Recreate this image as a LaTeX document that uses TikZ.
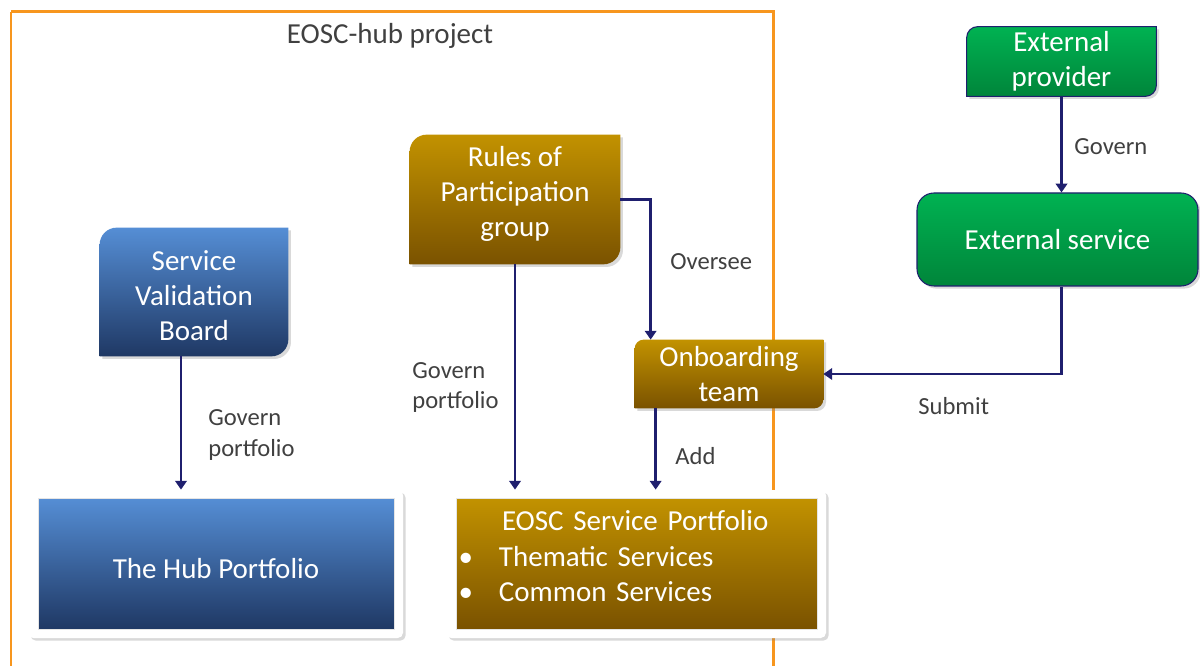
\documentclass[tikz,border=0pt]{standalone}
\usepackage{fontspec}
\setmainfont{Carlito}
\usetikzlibrary{calc,positioning,arrows.meta,shadows,backgrounds}

\definecolor{svbtop}{RGB}{85,142,213}
\definecolor{svbbot}{RGB}{31,56,100}
\definecolor{goldtop}{RGB}{194,146,0}
\definecolor{goldbot}{RGB}{122,82,0}
\definecolor{greentop}{RGB}{0,178,82}
\definecolor{greenbot}{RGB}{0,133,58}
\definecolor{linknavy}{RGB}{31,31,110}
\definecolor{labelgrey}{RGB}{64,64,64}
\definecolor{projorange}{RGB}{247,150,30}

\tikzset{
  boxtext/.style={text=white, align=center, inner sep=0pt,
    font=\fontsize{16.5}{20}\selectfont},
  lbl/.style={text=labelgrey, align=left, inner sep=0pt, anchor=base west,
    font=\fontsize{14}{17.6}\selectfont},
  link/.style={draw=linknavy, line width=1.4pt, -{Triangle[width=6.5pt,length=5pt]}},
  softshadow/.style={drop shadow={shadow xshift=1.5pt, shadow yshift=-1.5pt, opacity=0.3}},
  portframe/.style={fill=white, rounded corners=3pt, softshadow, inner sep=0pt},
  portbox/.style={boxtext, draw=white!80!gray, line width=0.4pt},
  projframe/.style={draw=projorange, line width=1.7pt},
}

% rounded top-left and bottom-right corners, sharp elsewhere
\newcommand{\diagshape}[3]{%
  \shade[#2] ($(#1.north west)+(0,-#3)$) -- (#1.south west)
    -- ($(#1.south east)+(-#3,0)$) arc[start angle=270, end angle=360, radius=#3]
    -- (#1.north east) -- ($(#1.north west)+(#3,0)$)
    arc[start angle=90, end angle=180, radius=#3] -- cycle;
}

\begin{document}
\begin{tikzpicture}

\useasboundingbox (0,0) rectangle (24,-13.32);

% project frame, left edge (nothing covers it)
\draw[projframe] (0.22,-0.24) -- (0.22,-13.32);

% Title of the project frame
\node[text=labelgrey, inner sep=0pt, anchor=base, font=\fontsize{16.5}{20}\selectfont]
  (title) at (7.80,-0.88) {EOSC-hub project};

% Boxes (text only, shapes drawn on the background)
\node[boxtext, minimum width=3.76cm, minimum height=2.56cm] (svb) at (3.88,-5.84)
  {\rule{0pt}{0.54cm}Service\\Validation\\Board};
\node[boxtext, minimum width=4.20cm, minimum height=2.58cm] (rules) at (10.30,-3.99)
  {Rules of\\Participation\\group\rule[-0.33cm]{0pt}{0pt}};
\node[boxtext, minimum width=3.76cm, minimum height=1.36cm] (onboard) at (14.58,-7.48)
  {Onboarding\\team};
\node[boxtext, minimum width=3.78cm, minimum height=1.38cm] (extprov) at (21.23,-1.23)
  {External\\provider};
\node[boxtext, minimum width=5.62cm, minimum height=1.86cm, rounded corners=0.34cm,
  draw=linknavy, line width=0.6pt, top color=greentop, bottom color=greenbot, softshadow]
  (extserv) at (21.15,-4.79) {External service};

% Portfolios
\node[portframe, minimum width=7.50cm, minimum height=2.96cm] (hub) at (4.31,-11.28) {};
\node[portbox, minimum width=7.12cm, minimum height=2.62cm,
  top color=svbtop, bottom color=svbbot] (hubbox) at (4.32,-11.27)
  {\rule{0pt}{0.62cm}The Hub Portfolio};
\node[portbox, align=left, text width=6.82cm, inner xsep=0.2cm, minimum height=2.62cm,
  top color=goldtop, bottom color=goldbot] (eoscbox) at (12.73,-11.27)
  {\hspace*{0.72cm}EOSC Service Portfolio\\
   \makebox[0.66cm][l]{\hspace{-0.15cm}\textbullet}Thematic Services\\
   \makebox[0.66cm][l]{\hspace{-0.15cm}\textbullet}Common Services\rule[-0.3cm]{0pt}{0pt}};

\begin{scope}[on background layer]
  % project frame, top and right edges (behind the boxes)
  \draw[projframe] (0.22,-0.24) -- (15.46,-0.24) -- (15.46,-13.32);
  \diagshape{svb}{top color=svbtop, bottom color=svbbot, softshadow}{0.34cm}
  \diagshape{rules}{top color=goldtop, bottom color=goldbot, softshadow}{0.34cm}
  \diagshape{onboard}{top color=goldtop, bottom color=goldbot, softshadow}{0.18cm}
  \diagshape{extprov}{top color=greentop, bottom color=greenbot, draw=linknavy, line width=0.6pt, softshadow}{0.22cm}
  \node[portframe, minimum width=7.60cm, minimum height=2.96cm] (eosc) at (12.72,-11.28) {};
\end{scope}

% Connectors
\coordinate (svbout) at ([xshift=-0.26cm]svb.south);
\coordinate (ovin) at ([xshift=0.32cm]onboard.north west);
\coordinate (addout) at ([xshift=0.42cm]onboard.south west);
\coordinate (subout) at (extprov.south |- extserv.south);

\draw[link] (svbout) -- (svbout |- hub.north);
\draw[link] (rules.south) -- (rules.south |- eosc.north);
\draw[link] (rules.east) -| (ovin);
\draw[link] (addout) -- (addout |- eosc.north);
\draw[link] (extprov.south) -- (extprov.south |- extserv.north);
\draw[link] (subout) |- (onboard.east);

% Labels
\node[lbl] (lsvb) at (4.16,-9.12) {Govern\\portfolio};
\node[lbl] (lrules) at (8.24,-8.18) {Govern\\portfolio};
\node[lbl] (loversee) at (13.40,-5.40) {Oversee};
\node[lbl] (ladd) at (13.50,-9.30) {Add};
\node[lbl] (lgovern) at (21.48,-3.10) {Govern};
\node[lbl] (lsubmit) at (18.36,-8.28) {Submit};

\end{tikzpicture}
\end{document}
